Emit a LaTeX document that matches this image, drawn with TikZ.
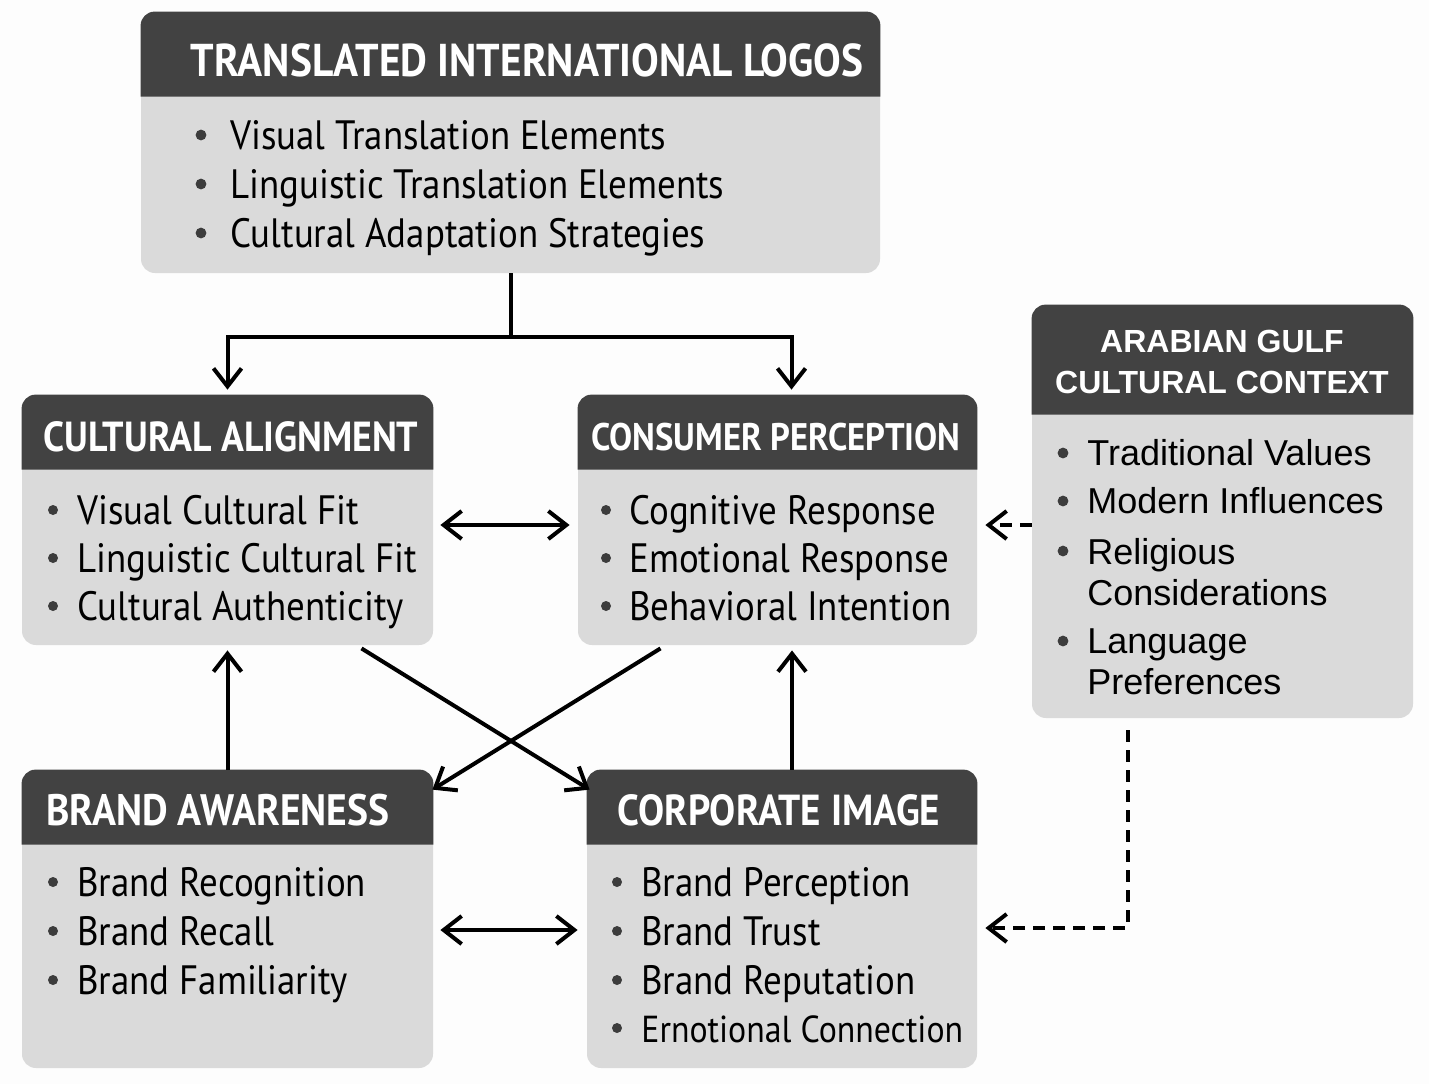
\documentclass[tikz,border=0pt]{standalone}
\usepackage{fontspec}
\setmainfont{PT Sans}[FakeStretch=0.9]
\newfontfamily\gulffont{Liberation Sans}
\usetikzlibrary{arrows.meta,fit,calc}
\definecolor{headgray}{RGB}{66,66,66}
\definecolor{bodygray}{RGB}{218,218,218}
\definecolor{paper}{RGB}{253,253,253}
\definecolor{dotgray}{RGB}{60,60,60}

\begin{document}
\begin{tikzpicture}[x=0.5pt, y=-0.5pt,
    body/.style={fill=bodygray, rounded corners=7pt, inner sep=0pt},
    title/.style={text=white, inner sep=0pt, font=\bfseries\fontsize{21}{24}\selectfont},
    item/.style={anchor=base west, inner sep=0pt, font=\fontsize{20.5}{24}\selectfont},
    gulftitle/.style={text=white, inner sep=0pt, align=center, font=\gulffont\bfseries\fontsize{16}{20.5}\selectfont},
    gulfitem/.style={anchor=west, inner sep=0pt, align=left, font=\gulffont\fontsize{18}{20.5}\selectfont},
    link/.style={line width=2pt, -{Straight Barb[length=9pt,width=14pt]}},
    both/.style={line width=2pt, {Straight Barb[length=9pt,width=14pt]}-{Straight Barb[length=9pt,width=14pt]}},
    dashlink/.style={link, dash pattern=on 6pt off 4pt}]
    % Frame to ensure alignment
    \fill[paper] (0,0) rectangle (1429,1084);
    % Boxes
    \node[body, fit={(141,12) (880,273)}]    (logos)  {};
    \node[body, fit={(22,395) (433,645)}]    (align)  {};
    \node[body, fit={(578,395) (977,645)}]   (percep) {};
    \node[body, fit={(1032,305) (1413,718)}] (gulf)   {};
    \node[body, fit={(22,770) (433,1068)}]   (aware)  {};
    \node[body, fit={(587,770) (977,1068)}]  (image)  {};
    % Headers
    \fill[headgray] ($(logos.north west)+(0,85)$) [rounded corners=7pt] -- (logos.north west) -- (logos.north east) [sharp corners] -- ($(logos.north east)+(0,85)$) -- cycle;
    \fill[headgray] ($(align.north west)+(0,75)$) [rounded corners=7pt] -- (align.north west) -- (align.north east) [sharp corners] -- ($(align.north east)+(0,75)$) -- cycle;
    \fill[headgray] ($(percep.north west)+(0,75)$) [rounded corners=7pt] -- (percep.north west) -- (percep.north east) [sharp corners] -- ($(percep.north east)+(0,75)$) -- cycle;
    \fill[headgray] ($(gulf.north west)+(0,110)$) [rounded corners=7pt] -- (gulf.north west) -- (gulf.north east) [sharp corners] -- ($(gulf.north east)+(0,110)$) -- cycle;
    \fill[headgray] ($(aware.north west)+(0,75)$) [rounded corners=7pt] -- (aware.north west) -- (aware.north east) [sharp corners] -- ($(aware.north east)+(0,75)$) -- cycle;
    \fill[headgray] ($(image.north west)+(0,75)$) [rounded corners=7pt] -- (image.north west) -- (image.north east) [sharp corners] -- ($(image.north east)+(0,75)$) -- cycle;
    % Titles
    \node[title, font=\bfseries\fontsize{23}{26}\selectfont] (logost) at (527,60) {TRANSLATED INTERNATIONAL LOGOS};
    \node[title] (alignt) at (231,437) {CULTURAL ALIGNMENT};
    \node[title, font=\bfseries\fontsize{19.2}{22}\selectfont] (percept) at (776,437) {CONSUMER PERCEPTION};
    \node[title, font=\bfseries\fontsize{22}{25}\selectfont] (awaret) at (218,810) {BRAND AWARENESS};
    \node[title, font=\bfseries\fontsize{21.7}{25}\selectfont] (imaget) at (779,810) {CORPORATE IMAGE};
    \node[gulftitle] (gulft) at (1222,362) {ARABIAN GULF\\CULTURAL CONTEXT};
    % Top list
    \foreach \y in {135,184,233} \fill[dotgray] (201,\y) circle (2.7pt);
    \node[item] (logos1) at (230,149) {Visual Translation Elements};
    \node[item] (logos2) at (230,198) {Linguistic Translation Elements};
    \node[item] (logos3) at (230,247) {Cultural Adaptation Strategies};
    % Cultural alignment list
    \foreach \y in {510,558,606} \fill[dotgray] (53,\y) circle (2.5pt);
    \node[item] (align1) at (77,524) {Visual Cultural Fit};
    \node[item] (align2) at (77,572) {Linguistic Cultural Fit};
    \node[item] (align3) at (77,620) {Cultural Authenticity};
    % Consumer perception list
    \foreach \y in {510,558,606} \fill[dotgray] (606,\y) circle (2.5pt);
    \node[item] (percep1) at (629,524) {Cognitive Response};
    \node[item] (percep2) at (629,572) {Emotional Response};
    \node[item] (percep3) at (629,620) {Behavioral Intention};
    % Gulf context list
    \foreach \y in {453,501,551,641} \fill[dotgray] (1063,\y) circle (2.7pt);
    \node[gulfitem] (gulf1) at (1087,453) {Traditional Values};
    \node[gulfitem] (gulf2) at (1087,501) {Modern Influences};
    \node[gulfitem] (gulf3) at (1087,572) {Religious\\Considerations};
    \node[gulfitem] (gulf4) at (1087,662) {Language\\Preferences};
    % Brand awareness list
    \foreach \y in {882,931,980} \fill[dotgray] (53,\y) circle (2.5pt);
    \node[item] (aware1) at (77,896) {Brand Recognition};
    \node[item] (aware2) at (77,945) {Brand Recall};
    \node[item] (aware3) at (77,994) {Brand Familiarity};
    % Corporate image list
    \foreach \y in {882,931,980,1028} \fill[dotgray] (617,\y) circle (2.5pt);
    \node[item] (image1) at (641,896)  {Brand Perception};
    \node[item] (image2) at (641,945)  {Brand Trust};
    \node[item] (image3) at (641,994)  {Brand Reputation};
    \node[item, font=\fontsize{18.8}{24}\selectfont] (image4) at (641,1042) {Ernotional Connection};
    % Connectors
    \coordinate (split) at ($(logos.south)+(0,64)$);
    \draw[line width=2pt] (logos.south) -- (split);
    \draw[link, shorten >=2.5pt] (split) -| (align.north);
    \draw[link, shorten >=2.5pt] (split) -| ([xshift=7pt]percep.north);
    \draw[both, shorten <=3.5pt, shorten >=4pt] ([yshift=-2.5pt]align.east) -- ([yshift=-2.5pt]percep.west);
    \draw[dashlink, shorten >=4pt] ([yshift=-2.5pt]gulf.west |- percep.east) -- ([yshift=-2.5pt]percep.east);
    \draw[link, shorten >=2.5pt] (aware.north) -- (align.south);
    \draw[link, shorten >=2.5pt] ([xshift=5pt]image.north) -- ([xshift=5pt]image.north |- percep.south);
    \draw[link] ($(align.south)+(134,3)$) -- ($(image.north west)+(3,20)$);
    \draw[link] ($(percep.south)+(-117,3)$) -- ($(aware.north east)+(-1,20)$);
    \draw[both, shorten <=3.5pt, shorten >=4.5pt] ([yshift=-5.5pt]aware.east) -- ([yshift=-5.5pt]aware.east -| image.west);
    \draw[dashlink, shorten <=6pt, shorten >=4pt] ([xshift=-47.5pt]gulf.south) |- ([yshift=-4.5pt]image.east);
\end{tikzpicture}
\end{document}
